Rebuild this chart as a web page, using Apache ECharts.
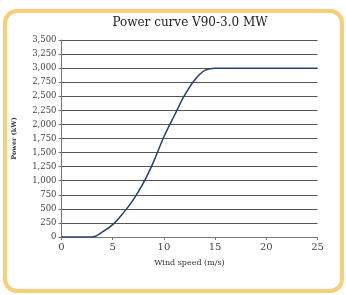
<!DOCTYPE html>
<html><head><meta charset="utf-8">
<script src="https://cdn.jsdelivr.net/npm/echarts@6/dist/echarts.min.js"></script>
<style>html,body{margin:0;padding:0;background:#fff}#c{width:346px;height:295px}</style>
</head><body><div id="c"></div>
<script>
var windSpeed = [0,1,2,3,4,5,6,7,8,9,10,11,12,13,14,15,16,17,18,19,20,21,22,23,24,25];
var powerKW  = [0,0,0,0,90,220,420,660,960,1340,1780,2150,2510,2790,2960,3000,3000,3000,3000,3000,3000,3000,3000,3000,3000,3000];
var titleText = 'Power curve V90-3.0 MW';
var xName = 'Wind speed (m/s)';
var yName = 'Power (kW)';

var chart = echarts.init(document.getElementById('c'), null, {renderer:'canvas'});
var serif = 'DejaVu Serif';
chart.setOption({
  animation:false,
  backgroundColor:'#fff',
  graphic:[{
    type:'rect', left:3, top:9, z:-1,
    shape:{width:337, height:280, r:12},
    style:{fill:'#fff', stroke:'#f6cf78', lineWidth:4}
  }],
  title:{text:titleText, left:185, top:12, textAlign:'center',
    textStyle:{fontFamily:serif, fontSize:12, fontWeight:'normal', color:'#222'}},
  grid:{left:61.5, right:28.5, top:40, bottom:58},
  xAxis:{type:'value', min:0, max:25, interval:5,
    name:xName, nameLocation:'middle', nameGap:22,
    nameTextStyle:{fontFamily:serif, fontSize:8, color:'#333'},
    axisLine:{lineStyle:{color:'#777', width:1}},
    axisTick:{show:true, length:3, lineStyle:{color:'#777'}},
    axisLabel:{fontFamily:serif, fontSize:10, color:'#444', margin:5},
    splitLine:{show:false}},
  yAxis:{type:'value', min:0, max:3500, interval:250,
    name:yName, nameLocation:'middle', nameGap:44,
    nameTextStyle:{fontFamily:serif, fontSize:6.5, fontWeight:'bold', color:'#333'},
    axisLine:{show:true, lineStyle:{color:'#777', width:1}},
    axisTick:{show:true, length:3, lineStyle:{color:'#777'}},
    axisLabel:{fontFamily:serif, fontSize:8.5, color:'#444', margin:5,
      formatter:function(v){return v.toLocaleString('en-US');}},
    splitLine:{show:true, lineStyle:{color:'#555', width:1}}},
  series:[{
    type:'line', data:windSpeed.map(function(x,i){return [x, powerKW[i]];}),
    smooth:0.35, showSymbol:false,
    lineStyle:{color:'#24416f', width:1.5}
  }]
});
</script></body></html>
